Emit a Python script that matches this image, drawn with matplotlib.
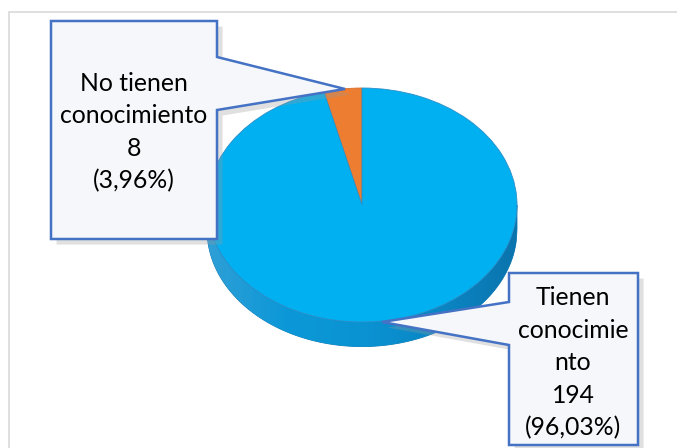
import numpy as np
import matplotlib.pyplot as plt
import matplotlib.patheffects as pe
from matplotlib.colors import LinearSegmentedColormap
from matplotlib.patches import Polygon, Rectangle

# data
labels = ['No tienen\nconocimiento', 'Tienen\nconocimie\nnto']
counts = [8, 194]
percents = ['3,96%', '96,03%']
colors = ['#ED7D31', '#00B0F0']

W, H = 677, 448
fig = plt.figure(figsize=(W / 100, H / 100), dpi=100)
ax = fig.add_axes([0, 0, 1, 1])

# ellipse of the top face, in pixels
cx, cy, rx, ry = 362, 205, 155, 117
depth = 0.21


def px(x, y):
    return ((x - cx) / rx, (cy - y) / ry)


# side of the 3d pie
xs = np.linspace(-1, 1, 400)
s = np.sqrt(1 - xs ** 2)
side = np.vstack([np.column_stack([xs, -s]),
                  np.column_stack([xs[::-1], -s[::-1] - depth])])
side_patch = Polygon(side, closed=True, facecolor='#0A8FCC', edgecolor='#1a7db5',
                     lw=0.6, zorder=1)
ax.add_patch(side_patch)
side_cmap = LinearSegmentedColormap.from_list(
    'side', ['#2f9fd6', '#0c98d8', '#0a93d3', '#0a86c4', '#0b74ad'])
grad = np.tile(np.linspace(0, 1, 256), (20, 1))
im = ax.imshow(grad, extent=[-1, 1, -1 - depth, 0], cmap=side_cmap,
               aspect='auto', zorder=1.5, interpolation='bilinear')
im.set_clip_path(side_patch)

# top face
wedges, _ = ax.pie(counts, colors=colors, startangle=90, counterclock=True,
                   radius=1, center=(0, 0),
                   wedgeprops=dict(edgecolor='#2b8ec8', linewidth=0.6))
for w in wedges:
    w.set_zorder(2)
wedges[0].set_edgecolor('#d9702c')

ax.set_aspect('auto')
ax.set_xlim(-cx / rx, (W - cx) / rx)
ax.set_ylim((cy - H) / ry, cy / ry)
ax.axis('off')

# light chart frame
ax.add_patch(Rectangle(px(9, 460), 800 / rx, 448 / ry, fill=False,
                       edgecolor='#D9D9D9', lw=1.2, zorder=0, clip_on=False))

# callouts
callouts = [
    [(51, 21), (217, 21), (217, 57), (345, 89), (217, 110), (217, 239), (51, 239)],
    [(509, 273), (638, 273), (638, 445), (509, 445), (509, 345), (382, 322), (509, 302)],
]
text_pos = [(134, 132), (573, 363)]

for i, verts in enumerate(callouts):
    poly = Polygon([px(*v) for v in verts], closed=True, facecolor='#F5F7FA',
                   edgecolor='#4472C4', lw=1.8, zorder=5, joinstyle='miter',
                   path_effects=[pe.SimplePatchShadow(offset=(4, -4), shadow_rgbFace='#9a9a9a',
                                                      alpha=0.3),
                                 pe.Normal()])
    ax.add_patch(poly)
    label = f"{labels[i]}\n{counts[i]}\n({percents[i]})"
    ax.text(*px(*text_pos[i]), label, ha='center', va='center', multialignment='center',
            fontsize=17.8, family='Lato', color='black', linespacing=1.5, zorder=6)

fig.savefig('out.png', dpi=100)
